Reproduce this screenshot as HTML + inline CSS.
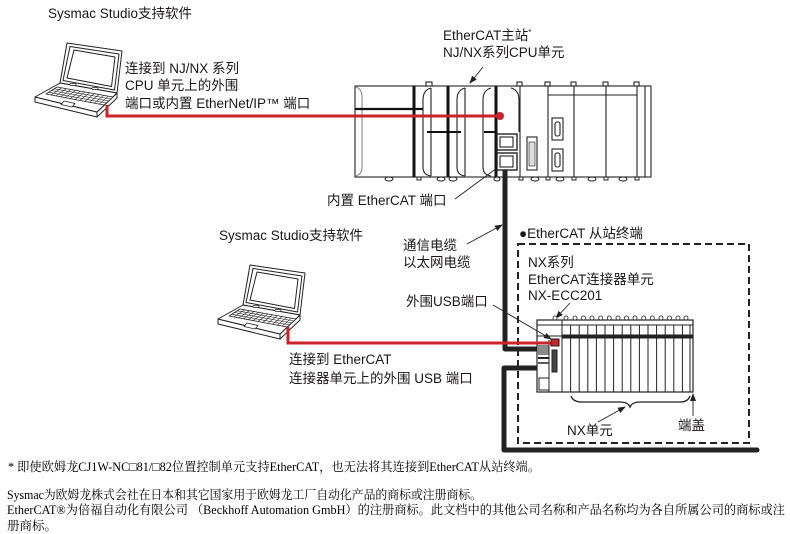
<!DOCTYPE html>
<html>
<head>
<meta charset="utf-8">
<style>
html,body{margin:0;padding:0;background:#fff;}
svg{display:block;}
.lb{font-family:"Liberation Sans","Noto Sans CJK SC",sans-serif;font-size:13.5px;fill:#1a1718;}
.fn{font-family:"Liberation Serif","Noto Serif CJK SC",serif;font-size:12.5px;fill:#000;}
</style>
</head>
<body>
<svg width="790" height="534" viewBox="0 0 790 534" xmlns="http://www.w3.org/2000/svg">
<defs>
<marker id="ah" markerWidth="8" markerHeight="6" refX="7" refY="3" orient="auto" markerUnits="userSpaceOnUse">
<path d="M0,0 L8,3 L0,6 Z" fill="#222"/>
</marker>
<g id="lap" stroke="#222" stroke-width="1" fill="#fff" stroke-linejoin="round">
  <polygon points="67,43 122,51 117,93 60,83"/>
  <polygon points="70,46.5 119,54 114.5,90 63,80.5"/>
  <polygon points="74,50 115,57 111.5,86.5 67,78"/>
  <polygon points="35,97 97,112 97,117 35,102"/>
  <polygon points="97,112 117,93 117,98 97,117"/>
  <polygon points="60,83 117,93 97,112 35,97"/>
  <polygon points="57,87 113,97 104,105 46,94" stroke-width="0.8"/>
  <g stroke-width="0.6" fill="none">
    <line x1="54.3" y1="88.8" x2="111" y2="99"/>
    <line x1="51.5" y1="90.5" x2="108.7" y2="101"/>
    <line x1="48.8" y1="92.3" x2="106.3" y2="103"/>
    <line x1="61.7" y1="87.8" x2="50.8" y2="95"/>
    <line x1="66.3" y1="88.7" x2="55.7" y2="95.9"/>
    <line x1="71" y1="89.5" x2="60.5" y2="96.8"/>
    <line x1="75.7" y1="90.3" x2="65.3" y2="97.7"/>
    <line x1="80.3" y1="91.2" x2="70.2" y2="98.6"/>
    <line x1="85" y1="92" x2="75" y2="99.5"/>
    <line x1="89.7" y1="92.8" x2="79.8" y2="100.4"/>
    <line x1="94.3" y1="93.7" x2="84.7" y2="101.3"/>
    <line x1="99" y1="94.5" x2="89.5" y2="102.2"/>
    <line x1="103.7" y1="95.3" x2="94.3" y2="103.1"/>
    <line x1="108.3" y1="96.2" x2="99.2" y2="104.1"/>
  </g>
  <polygon points="64,101 75,103.5 72,107 61,104.5" stroke-width="0.8"/>
  <rect x="70" y="83.5" width="6" height="2" rx="1" stroke-width="0.7"/>
  <rect x="92" y="87.5" width="6" height="2" rx="1" stroke-width="0.7"/>
</g>
</defs>

<!-- Labels top -->
<text class="lb" x="48" y="18">Sysmac Studio支持软件</text>
<text class="lb" x="443" y="40">EtherCAT主站<tspan font-size="8" dy="-5">*</tspan></text>
<text class="lb" x="443" y="57">NJ/NX系列CPU单元</text>
<text class="lb" x="125" y="73">连接到 NJ/NX 系列</text>
<text class="lb" x="125" y="90">CPU 单元上的外围</text>
<text class="lb" x="125" y="108">端口或内置 EtherNet/IP™ 端口</text>

<!-- Laptop 1 -->
<use href="#lap"/>
<!-- Laptop 2 -->
<use href="#lap" transform="translate(183,222)"/>

<!-- PLC -->
<g stroke="#222" stroke-width="1.1" fill="none">
  <rect x="355" y="86" width="296" height="91" fill="#fff"/>
  <path d="M356,87 Q362,89 362,97 V167 Q362,174 356,176" stroke="#888"/>
  <line x1="355" y1="109" x2="423" y2="109" stroke="#111" stroke-width="2.2"/>
  <line x1="414" y1="86" x2="414" y2="177" stroke="#111" stroke-width="3"/>
  <path d="M431,88 Q423,90 423,100 V167 Q423,175 431,176 M431,88 V176"/>
  <rect x="426" y="82" width="6" height="4" fill="#fff"/>
  <line x1="427" y1="132" x2="461" y2="132" stroke="#111" stroke-width="2"/>
  <line x1="448" y1="86" x2="448" y2="177" stroke="#111" stroke-width="3"/>
  <path d="M465,88 Q457,90 457,100 V167 Q457,175 465,176 M465,88 V176"/>
  <path d="M491,88 Q483,90 483,100 V167 Q483,175 491,176"/>
  <line x1="484" y1="132" x2="496" y2="132" stroke="#111" stroke-width="2"/>
  <line x1="496" y1="86" x2="496" y2="177" stroke="#111" stroke-width="3"/>
  <rect x="497" y="134" width="20" height="16" fill="#fff" stroke-width="1.4"/>
  <rect x="500" y="137" width="13" height="10"/>
  <rect x="497" y="153" width="20" height="17" fill="#fff" stroke-width="1.4"/>
  <rect x="500" y="156" width="13" height="11"/>
  <path d="M511,88 Q519,90 519,100 V132"/>
  <line x1="520" y1="86" x2="520" y2="177"/>
  <rect x="517" y="82" width="5" height="4" fill="#fff"/>
  <rect x="527" y="137" width="10" height="33" fill="#fff"/>
  <rect x="529" y="142" width="6" height="24" fill="#ddd" stroke-width="0.6"/>
  <line x1="548" y1="86" x2="548" y2="177"/>
  <line x1="548" y1="95" x2="637" y2="95"/>
  <rect x="552" y="118" width="11" height="22" fill="#fff"/>
  <rect x="555" y="122" width="5" height="14" rx="2"/>
  <rect x="552" y="149" width="11" height="22" fill="#fff"/>
  <rect x="555" y="153" width="5" height="14" rx="2"/>
  <line x1="574" y1="86" x2="574" y2="177"/>
  <line x1="606" y1="86" x2="606" y2="177"/>
  <line x1="637" y1="86" x2="637" y2="177"/>
  <line x1="645" y1="86" x2="645" y2="177"/>
  <rect x="545" y="82" width="5" height="4" fill="#fff"/>
  <rect x="571" y="82" width="5" height="4" fill="#fff"/>
  <rect x="603" y="82" width="5" height="4" fill="#fff"/>
  <rect x="634" y="82" width="5" height="4" fill="#fff"/>
  <g stroke-width="1">
    <ellipse cx="389" cy="179" rx="4" ry="2"/>
    <ellipse cx="441" cy="179" rx="4" ry="2"/>
    <ellipse cx="453" cy="179" rx="4" ry="2"/>
    <ellipse cx="497" cy="179" rx="3" ry="2"/>
    <ellipse cx="535" cy="179" rx="4" ry="2"/>
    <ellipse cx="560" cy="179" rx="4" ry="2"/>
    <ellipse cx="592" cy="179" rx="4" ry="2"/>
    <ellipse cx="623" cy="179" rx="4" ry="2"/>
    <rect x="417" y="177" width="4" height="3"/>
    <rect x="519" y="177" width="4" height="3"/>
    <rect x="546" y="177" width="4" height="3"/>
    <rect x="572" y="177" width="4" height="3"/>
    <rect x="604" y="177" width="4" height="3"/>
    <rect x="635" y="177" width="4" height="3"/>
  </g>
</g>

<!-- Red line 1 -->
<path d="M107,105 V116 H500" stroke="#cc2229" stroke-width="3" fill="none"/>
<circle cx="500" cy="116" r="4" fill="#cc2229"/>

<!-- Arrow to CPU -->
<line x1="483" y1="67" x2="470" y2="83" stroke="#222" stroke-width="0.9" marker-end="url(#ah)"/>

<!-- built-in EtherCAT port label -->
<text class="lb" x="327" y="205">内置 EtherCAT 端口</text>
<line x1="455" y1="199" x2="497" y2="168" stroke="#222" stroke-width="0.9"/>

<!-- Left second group labels -->
<text class="lb" x="219" y="240">Sysmac Studio支持软件</text>
<text class="lb" x="403" y="250">通信电缆</text>
<text class="lb" x="403" y="267">以太网电缆</text>
<line x1="467" y1="244" x2="502" y2="225" stroke="#222" stroke-width="0.9" marker-end="url(#ah)"/>
<text class="lb" x="406" y="306">外围USB端口</text>
<text class="lb" x="289" y="364">连接到 EtherCAT</text>
<text class="lb" x="289" y="383">连接器单元上的外围 USB 端口</text>

<!-- Dashed box -->
<rect x="518" y="244" width="231" height="199" fill="none" stroke="#222" stroke-width="2" stroke-dasharray="7 4"/>
<text class="lb" x="519" y="238">●EtherCAT 从站终端</text>
<text class="lb" x="528" y="267">NX系列</text>
<text class="lb" x="528" y="284">EtherCAT连接器单元</text>
<text class="lb" x="528" y="300">NX-ECC201</text>
<line x1="570" y1="303" x2="556" y2="318" stroke="#222" stroke-width="0.9" marker-end="url(#ah)"/>

<!-- Thick cables -->
<path d="M505,170 V349 H538" stroke="#222" stroke-width="5" fill="none" stroke-linejoin="round"/>
<path d="M538,368 H504 V450 H757" stroke="#222" stroke-width="5" fill="none" stroke-linejoin="round" stroke-linecap="round"/>

<!-- NX unit -->
<g stroke="#222" stroke-width="1" fill="none">
  <rect x="537" y="320" width="156" height="72" fill="#fff" stroke-width="1.2"/>
  <line x1="537" y1="325" x2="693" y2="325"/>
  <rect x="562" y="335" width="131" height="3" fill="#222"/>
  <line x1="562" y1="320" x2="562" y2="392"/>
  <g>
    <line x1="570.6" y1="325" x2="570.6" y2="392"/>
    <line x1="579.2" y1="325" x2="579.2" y2="392"/>
    <line x1="587.8" y1="325" x2="587.8" y2="392"/>
    <line x1="596.4" y1="325" x2="596.4" y2="392"/>
    <line x1="605" y1="325" x2="605" y2="392"/>
    <line x1="613.6" y1="325" x2="613.6" y2="392"/>
    <line x1="622.2" y1="325" x2="622.2" y2="392"/>
    <line x1="630.8" y1="325" x2="630.8" y2="392"/>
    <line x1="639.4" y1="325" x2="639.4" y2="392"/>
    <line x1="648" y1="325" x2="648" y2="392"/>
    <line x1="656.6" y1="325" x2="656.6" y2="392"/>
    <line x1="665.2" y1="325" x2="665.2" y2="392"/>
    <line x1="673.8" y1="325" x2="673.8" y2="392"/>
    <line x1="682.4" y1="325" x2="682.4" y2="392"/>
    <line x1="690" y1="325" x2="690" y2="392"/>
  </g>
  <g stroke-width="0.8" fill="#fff">
    <circle cx="555" cy="318" r="2"/>
    <circle cx="566" cy="318" r="2"/>
    <circle cx="575" cy="318" r="2"/>
    <circle cx="583.5" cy="318" r="2"/>
    <circle cx="592" cy="318" r="2"/>
    <circle cx="600.7" cy="318" r="2"/>
    <circle cx="609.3" cy="318" r="2"/>
    <circle cx="618" cy="318" r="2"/>
    <circle cx="626.5" cy="318" r="2"/>
    <circle cx="635" cy="318" r="2"/>
    <circle cx="643.7" cy="318" r="2"/>
    <circle cx="652.3" cy="318" r="2"/>
    <circle cx="661" cy="318" r="2"/>
    <circle cx="669.5" cy="318" r="2"/>
    <circle cx="678" cy="318" r="2"/>
    <circle cx="686" cy="318" r="2"/>
  </g>
  <line x1="537" y1="336" x2="562" y2="336"/>
  <rect x="538" y="345" width="11" height="10" fill="#8a8a8a" stroke="none"/>
  <line x1="538" y1="358" x2="549" y2="358" stroke-width="2"/>
  <line x1="538" y1="363" x2="549" y2="363" stroke-width="1.5"/>
  <rect x="552" y="350" width="5" height="22" fill="#444"/>
  <rect x="539" y="378" width="10" height="12" fill="#fff"/>
  <line x1="549" y1="340" x2="549" y2="392"/>
</g>

<!-- Red line 2 (USB) -->
<path d="M288,327 V343 H553" stroke="#cc2229" stroke-width="3" fill="none"/>
<rect x="551" y="339" width="8" height="7" fill="#cc2229" stroke="#222" stroke-width="1"/>
<line x1="493" y1="305" x2="551" y2="339" stroke="#222" stroke-width="0.9" marker-end="url(#ah)"/>

<!-- Brace and NX labels -->
<path d="M571,396 Q573,402 582,402 H620 Q628,402 630,407 Q632,402 640,402 H680 Q688,402 690,396" stroke="#222" stroke-width="1.3" fill="none"/>
<line x1="598" y1="422" x2="625" y2="407" stroke="#222" stroke-width="0.9" marker-end="url(#ah)"/>
<text class="lb" x="567" y="435">NX单元</text>
<line x1="693" y1="416" x2="693" y2="394" stroke="#222" stroke-width="0.9" marker-end="url(#ah)"/>
<text class="lb" x="678" y="430">端盖</text>

<!-- Footnotes -->
<text class="fn" x="8" y="471" textLength="532" lengthAdjust="spacingAndGlyphs">* 即使欧姆龙CJ1W-NC□81/□82位置控制单元支持EtherCAT，也无法将其连接到EtherCAT从站终端。</text>
<text class="fn" x="7" y="499" textLength="475" lengthAdjust="spacingAndGlyphs">Sysmac为欧姆龙株式会社在日本和其它国家用于欧姆龙工厂自动化产品的商标或注册商标。</text>
<text class="fn" x="7" y="514" textLength="778" lengthAdjust="spacingAndGlyphs">EtherCAT®为倍福自动化有限公司 （Beckhoff Automation GmbH）的注册商标。此文档中的其他公司名称和产品名称均为各自所属公司的商标或注</text>
<text class="fn" x="7" y="530">册商标。</text>
</svg>
</body>
</html>
